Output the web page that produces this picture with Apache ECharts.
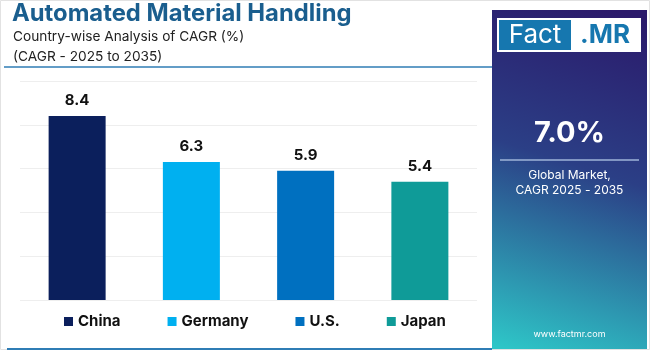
<!DOCTYPE html>
<html><head><meta charset="utf-8">
<script src="https://cdn.jsdelivr.net/npm/echarts@6/dist/echarts.min.js"></script>
<style>html,body{margin:0;padding:0;background:#fff}#c{width:650px;height:350px}</style>
</head><body><div id="c"></div>
<script>
const categories = ['China', 'Germany', 'U.S.', 'Japan'];
const values = [8.4, 6.3, 5.9, 5.4];
const colors = ['#0b1f5c', '#00b0f0', '#0070c0', '#0f9b98'];
const yTicks = [0, 2, 4, 6, 8, 10];
const globalCagr = '7.0%';

const series = categories.map((name, i) => ({
  name: name,
  type: 'bar',
  stack: 'all',
  barWidth: 57,
  itemStyle: { color: colors[i] },
  label: { show: true, position: 'top', distance: 8, color: '#111', fontFamily: 'Inter', fontWeight: 'bold', fontSize: 15, formatter: p => p.value.toFixed(1) },
  data: categories.map((c, j) => j === i ? values[i] : '-')
}));

const chart = echarts.init(document.getElementById('c'));
chart.setOption({
  animation: false,
  grid: { left: 20, right: 173, top: 81, bottom: 50, containLabel: false },
  xAxis: { type: 'category', data: categories, axisLine: { show: false }, axisTick: { show: false }, axisLabel: { show: false } },
  yAxis: { type: 'value', min: yTicks[0], max: yTicks[yTicks.length - 1], interval: 2,
    axisLabel: { show: false }, axisLine: { show: false }, axisTick: { show: false },
    splitLine: { lineStyle: { color: '#eeeeee', width: 1 } } },
  legend: { left: 64, top: 314, padding: 0, itemWidth: 9, itemHeight: 9, itemGap: 47, icon: 'rect',
    textStyle: { fontFamily: 'Inter', fontWeight: 'bold', fontSize: 15, color: '#111' },
    data: categories },
  series: series,
  graphic: [
    { type: 'rect', shape: { x: 0.5, y: 0.5, width: 649, height: 349 }, style: { fill: 'none', stroke: '#e2e2e2', lineWidth: 1 }, z: 0 },
    { type: 'text', left: 12, top: 2, style: { text: 'Automated Material Handling', fontFamily: 'Inter', fontWeight: 'bold', fontSize: 23.8, fill: '#1a5e8e' } },
    { type: 'text', left: 13, top: 30, style: { text: 'Country-wise Analysis of CAGR (%)', fontFamily: 'Inter', fontSize: 13.7, fill: '#222' } },
    { type: 'text', left: 13, top: 50, style: { text: '(CAGR - 2025 to 2035)', fontFamily: 'Inter', fontSize: 13.7, fill: '#222' } },
    { type: 'line', shape: { x1: 4, y1: 67, x2: 492, y2: 67 }, style: { stroke: '#2f7db5', lineWidth: 1.5 } },
    { type: 'line', shape: { x1: 7, y1: 349, x2: 492, y2: 349 }, style: { stroke: '#2f7db5', lineWidth: 2 } },
    { type: 'rect', shape: { x: 492, y: 10, width: 155, height: 339 },
      style: { fill: new echarts.graphic.LinearGradient(0.8, 0, 0.1, 1, [
        { offset: 0, color: '#2b1a6b' }, { offset: 0.45, color: '#2b3f86' }, { offset: 1, color: '#2ec5c7' }]) } },
    { type: 'rect', shape: { x: 497, y: 18, width: 144, height: 34 }, style: { fill: '#ffffff' } },
    { type: 'rect', shape: { x: 499, y: 20, width: 72, height: 30 }, style: { fill: '#1677af' } },
    { type: 'text', x: 535, y: 35, style: { text: 'Fact', fontFamily: 'Inter', fontSize: 26, fill: '#ffffff', align: 'center', verticalAlign: 'middle' } },
    { type: 'text', x: 605, y: 35, style: { text: '.MR', fontFamily: 'Inter', fontWeight: 'bold', fontSize: 26, fill: '#1677af', align: 'center', verticalAlign: 'middle' } },
    { type: 'text', x: 569.5, y: 133, style: { text: globalCagr, fontFamily: 'Inter', fontWeight: 'bold', fontSize: 29, fill: '#ffffff', align: 'center', verticalAlign: 'middle' } },
    { type: 'line', shape: { x1: 500, y1: 160, x2: 639, y2: 160 }, style: { stroke: '#9fb4d8', lineWidth: 1.5 } },
    { type: 'text', x: 569.5, y: 175, style: { text: 'Global Market,', fontFamily: 'Inter', fontSize: 12, fill: '#ffffff', align: 'center', verticalAlign: 'middle' } },
    { type: 'text', x: 569.5, y: 190, style: { text: 'CAGR 2025 - 2035', fontFamily: 'Inter', fontSize: 12, fill: '#ffffff', align: 'center', verticalAlign: 'middle' } },
    { type: 'text', x: 569.5, y: 334, style: { text: 'www.factmr.com', fontFamily: 'Inter', fontSize: 9, fill: '#ffffff', align: 'center', verticalAlign: 'middle' } }
  ]
});
</script></body></html>
